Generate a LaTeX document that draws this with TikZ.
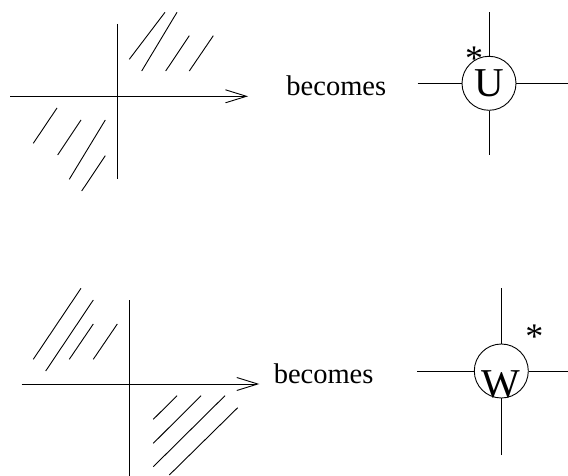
\documentclass[tikz,border=0pt]{standalone}
\usepackage{fontspec}
\setmainfont{Liberation Serif}
\usetikzlibrary{arrows.meta}

\begin{document}
\begin{tikzpicture}[x=1pt, y=-1pt, line width=0.9pt, >={Straight Barb[length=21pt,width=13pt]},
  gate/.style={draw, circle, minimum size=54pt, inner sep=0pt, font=\fontsize{41}{41}\selectfont},
  word/.style={anchor=base west, inner sep=0pt, font=\fontsize{28.5}{30}\selectfont},
  star/.style={anchor=center, inner sep=0pt, font=\fontsize{36}{36}\selectfont}]
\useasboundingbox (0,0) rectangle (568,476);
\coordinate (a1w) at (10,96.3);
\coordinate (a1e) at (248,96.3);
\coordinate (a1n) at (117,24);
\coordinate (a1s) at (117,179);
\draw[->] (a1w) -- (a1e);
\draw (a1n) -- (a1s);
\foreach \xa/\ya/\xb/\yb in {129.3/59.3/165/12.3, 141.7/71/177/12.3, 165.7/71/189.3/35.7, 189.3/71/213.3/35.7,
  33.3/143.3/57/108, 57.7/155/81/120, 69.3/179.3/105.3/120, 81.7/191/105.3/155.7}
  \draw (\xa,\ya) -- (\xb,\yb);
\node[word] (becomes1) at (286,96) {becomes};
\node[gate] (u) at (489,83.3) {U};
\coordinate (un) at (489,12.3);
\coordinate (us) at (489,155);
\coordinate (uw) at (417.7,83.3);
\coordinate (ue) at (568,83.3);
\draw (un) -- (u);
\draw (us) -- (u);
\draw (uw) -- (u);
\draw (ue) -- (u);
\node[star] (ustar) at (474,53.3) {\raisebox{-9.4pt}[15pt][0pt]{*}};
\coordinate (a2w) at (21.7,384);
\coordinate (a2e) at (259.3,384);
\coordinate (a2n) at (129.3,300);
\coordinate (a2s) at (129.3,476);
\draw[->] (a2w) -- (a2e);
\draw (a2n) -- (a2s);
\foreach \xa/\ya/\xb/\yb in {33.3/359.3/81/288.3, 45.7/371/93.3/300, 69.3/359.3/93.3/324, 93.3/359.3/117.3/324,
  153.3/419.3/177/395.7, 153.3/443.3/201/395.7, 153.3/466.7/225/395.7, 169.3/475/237.7/407.7}
  \draw (\xa,\ya) -- (\xb,\yb);
\node[word] (becomes2) at (273.3,383.3) {becomes};
\node[gate] (w) at (501.3,371) {\raisebox{-13pt}[\height][\depth]{W}};
\coordinate (wn) at (501.3,288.3);
\coordinate (ws) at (501.3,455);
\coordinate (ww) at (417.3,371);
\coordinate (we) at (568,371);
\draw (wn) -- (w);
\draw (ws) -- (w);
\draw (ww) -- (w);
\draw (we) -- (w);
\node[star] (wstar) at (534.3,331.7) {\raisebox{-9.4pt}[15pt][0pt]{*}};
\end{tikzpicture}
\end{document}
